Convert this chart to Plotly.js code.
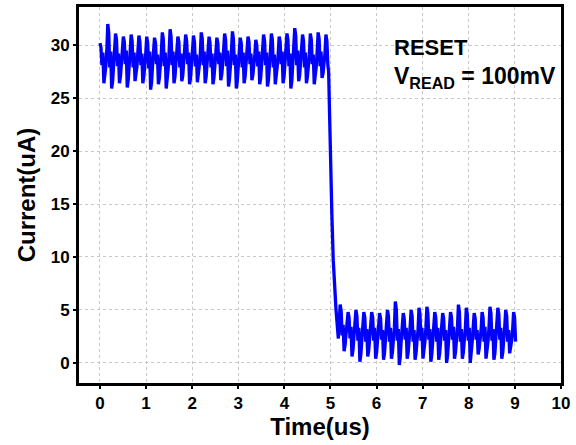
<!DOCTYPE html>
<html>
<head>
<meta charset="utf-8">
<script src="https://cdn.plot.ly/plotly-3.0.1.min.js"></script>
<style>html,body{margin:0;padding:0;background:#fff;}#chart{width:576px;height:445px;}</style>
</head>
<body>
<div id="chart"></div>
<script>
// Sampling grid (us) for the flat value lists: 8 samples per oscillation period
const preStart = 0.0;
const preStep = 0.021125;
// Current (uA) before switching (8 samples per cycle, starting at a peak)
const preValues = [
  30.2, 29.8, 28.1, 29.3, 26.4, 27.0, 28.0, 29.4,
  32.0, 31.2, 27.9, 29.4, 25.9, 26.6, 27.8, 29.5,
  31.1, 30.5, 28.0, 29.2, 26.4, 27.0, 28.1, 29.3,
  30.8, 30.3, 28.2, 29.5, 26.0, 26.7, 27.7, 29.4,
  31.0, 30.4, 27.9, 29.3, 26.6, 27.1, 28.0, 29.5,
  30.9, 30.3, 28.1, 29.2, 26.4, 27.0, 27.9, 29.2,
  30.8, 30.2, 27.8, 29.4, 25.8, 26.5, 28.1, 29.5,
  30.7, 30.2, 28.2, 29.1, 26.3, 26.9, 27.8, 29.3,
  31.2, 30.6, 28.0, 29.3, 25.9, 26.6, 27.7, 29.4,
  31.5, 30.8, 28.1, 29.4, 26.4, 27.0, 28.0, 29.3,
  30.8, 30.3, 27.9, 29.2, 26.6, 27.1, 28.2, 29.2,
  31.0, 30.4, 28.2, 29.3, 26.3, 26.9, 27.9, 29.5,
  30.9, 30.3, 28.0, 29.1, 26.5, 27.1, 28.1, 29.2,
  31.2, 30.6, 28.1, 29.4, 26.4, 27.0, 28.0, 29.4,
  30.8, 30.2, 27.9, 29.2, 26.3, 26.9, 27.8, 29.3,
  30.7, 30.2, 28.2, 29.3, 26.7, 27.2, 28.2, 29.3,
  31.1, 30.5, 28.0, 29.5, 26.1, 26.8, 27.9, 29.4,
  31.3, 30.6, 28.1, 29.1, 25.9, 26.6, 28.0, 29.2,
  30.7, 30.2, 27.9, 29.3, 26.4, 27.0, 28.1, 29.5,
  30.8, 30.3, 28.2, 29.2, 26.7, 27.2, 27.9, 29.1,
  30.5, 30.0, 28.0, 29.4, 26.3, 26.9, 28.2, 29.3,
  31.0, 30.4, 28.1, 29.3, 26.1, 26.7, 27.8, 29.4,
  31.1, 30.5, 27.9, 29.1, 26.3, 26.9, 28.0, 29.2,
  30.8, 30.3, 28.2, 29.4, 26.4, 27.0, 28.1, 29.4,
  31.1, 30.5, 28.0, 29.2, 25.9, 26.6, 27.9, 29.3,
  31.6, 30.9, 28.1, 29.5, 26.6, 27.1, 28.2, 29.5,
  31.0, 30.4, 27.9, 29.3, 26.4, 27.0, 28.0, 29.1,
  31.1, 30.5, 28.2, 29.1, 26.3, 26.9, 27.9, 29.4,
  31.2, 30.6, 28.0, 29.4, 26.9, 27.3, 28.1, 29.2,
  31.0, 30.4, 28.1
];
// Switching edge
const dropTime  = [4.96, 4.98, 5.00, 5.03, 5.06, 5.09, 5.12, 5.17];
const dropValue = [27.5, 23.5, 19.0, 14.0,  9.7,  7.0,  5.0,  2.3];
// After switching
const postStart = 5.21;
const postStep = 0.021375;
const postValues = [
  5.5, 4.9, 2.6, 3.6, 1.1, 1.7, 2.6, 3.7,
  4.8, 4.3, 2.3, 3.4, 0.6, 1.2, 2.2, 3.4,
  5.0, 4.4, 2.1, 3.3, 0.1, 0.8, 2.1, 3.3,
  4.8, 4.3, 2.0, 3.2, 0.6, 1.2, 2.2, 3.2,
  4.8, 4.3, 2.1, 3.3, 0.4, 1.0, 2.0, 3.3,
  4.7, 4.2, 2.2, 3.1, 0.3, 0.9, 2.1, 3.1,
  5.0, 4.4, 2.0, 3.3, 0.4, 1.0, 2.0, 3.3,
  5.8, 5.0, 2.1, 3.2, -0.2, 0.6, 2.2, 3.2,
  4.7, 4.2, 2.2, 3.3, 0.4, 1.0, 2.0, 3.4,
  5.0, 4.4, 2.0, 3.1, 0.3, 0.9, 2.1, 3.1,
  5.2, 4.6, 2.1, 3.3, 0.4, 1.0, 2.0, 3.3,
  5.3, 4.7, 2.2, 3.2, 0.1, 0.8, 2.2, 3.2,
  4.8, 4.3, 2.0, 3.3, 0.3, 0.9, 2.0, 3.4,
  4.7, 4.2, 2.1, 3.1, 0.0, 0.7, 2.1, 3.1,
  4.8, 4.3, 2.2, 3.4, 0.4, 1.0, 2.0, 3.3,
  5.5, 4.8, 2.0, 3.2, 0.4, 1.0, 2.2, 3.2,
  5.2, 4.6, 2.1, 3.3, 0.0, 0.7, 2.0, 3.4,
  4.7, 4.2, 2.2, 3.1, 0.8, 1.3, 2.1, 3.1,
  4.8, 4.3, 2.0, 3.4, 0.4, 1.0, 2.0, 3.3,
  5.3, 4.7, 2.1, 3.2, 0.3, 0.9, 2.2, 3.2,
  5.2, 4.6, 2.2, 3.3, 0.4, 1.0, 2.0, 3.4,
  5.0, 4.4, 2.0, 3.1, 0.9, 1.4, 2.1, 3.1,
  4.8, 4.3, 2.0
];
const xTicks = [0,1,2,3,4,5,6,7,8,9,10];
const yTicks = [0,5,10,15,20,25,30];

const t = [], y = [];
preValues.forEach((v, i) => { t.push(preStart + i * preStep); y.push(v); });
dropValue.forEach((v, i) => { t.push(dropTime[i]); y.push(v); });
postValues.forEach((v, i) => { t.push(postStart + i * postStep); y.push(v); });

const font = "Arial, 'Liberation Sans', sans-serif";
const trace = {
  x: t, y: y, type: 'scatter', mode: 'lines',
  line: {color: '#0000ff', width: 3.3}, hoverinfo: 'skip'
};
const axisCommon = {
  showline: true, linecolor: '#000', linewidth: 3, mirror: true,
  ticks: 'outside', ticklen: 3, tickwidth: 2, tickcolor: '#000',
  showgrid: true, gridcolor: '#c8c8c8', griddash: 'dot', gridwidth: 1,
  zeroline: false,
  tickfont: {family: font, size: 17, color: '#000', weight: 'bold'}
};
const layout = {
  width: 576, height: 445,
  margin: {l: 79, r: 15, t: 7, b: 62},
  paper_bgcolor: '#fff', plot_bgcolor: '#fff',
  showlegend: false,
  xaxis: Object.assign({}, axisCommon, {
    range: [-0.455, 10], tickvals: xTicks, ticktext: xTicks.map(String),
    title: {text: 'Time(us)', font: {family: font, size: 24, color: '#000', weight: 'bold'}, standoff: 5}
  }),
  yaxis: Object.assign({}, axisCommon, {
    range: [-1.9, 33.6], tickvals: yTicks, ticktext: yTicks.map(String),
    title: {text: 'Current(uA)', font: {family: font, size: 24, color: '#000', weight: 'bold'}, standoff: 9}
  }),
  annotations: [
    {x: 6.33, y: 29.8, xref: 'x', yref: 'y', xanchor: 'left', yanchor: 'middle', showarrow: false,
     text: '<b>RESET</b>', font: {family: font, size: 22, color: '#000'}},
    {x: 6.33, y: 26.9, xref: 'x', yref: 'y', xanchor: 'left', yanchor: 'middle', showarrow: false,
     text: '<b>V<sub>READ</sub> = 100mV</b>', font: {family: font, size: 23, color: '#000'}}
  ]
};
Plotly.newPlot('chart', [trace], layout, {displayModeBar: false, staticPlot: true});
</script>
</body>
</html>
